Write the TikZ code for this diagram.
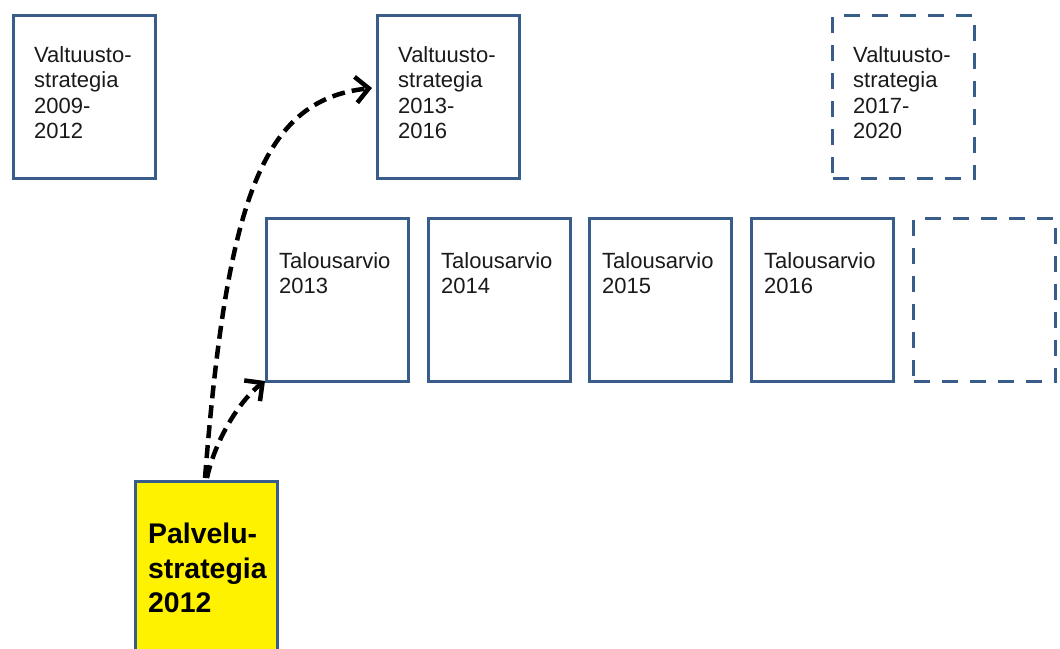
\documentclass[tikz,border=0pt]{standalone}
\usepackage{fontspec}
\setmainfont{Liberation Sans}
\usetikzlibrary{arrows.meta}
\definecolor{boxblue}{HTML}{385D8A}
\definecolor{txt}{HTML}{1A1A1A}
\begin{document}
\begin{tikzpicture}[x=1pt,y=-1pt,
  box/.style={draw=boxblue, line width=3pt, minimum width=142pt, minimum height=163pt, inner sep=0pt, anchor=north west, fill=white},
  dbox/.style={box, dash pattern=on 16pt off 12pt},
  lbl/.style={anchor=north west, inner sep=0pt, align=left, text=txt, font=\fontsize{22}{25.5}\selectfont},
  blbl/.style={anchor=north west, inner sep=0pt, align=left, text=black, font=\fontsize{28.4}{34.5}\selectfont\bfseries},
  conn/.style={line width=4.5pt, dash pattern=on 13pt off 7pt, -{Straight Barb[length=13pt,width=26pt]}}
]
\useasboundingbox[fill=white] (0,0) rectangle (1060,648);
\clip (0,0) rectangle (1060,648);

\node[box] (v1) at (12,14) {};
\node[box] (v2) at (376,14) {};
\node[dbox] (v3) at (831,14) {};

\node[box] (t13) at (265,217) {};
\node[box] (t14) at (427,217) {};
\node[box] (t15) at (588,217) {};
\node[box] (t16) at (750,217) {};
\node[dbox] (t17) at (912,217) {};

\node[box, fill=yellow, minimum height=220pt] (pal) at (134,480) {};

\node[lbl] (v1t) at ([shift={(22,32)}]v1.north west) {Valtuusto-\\strategia\\2009-\\2012};
\node[lbl] (v2t) at ([shift={(22,32)}]v2.north west) {Valtuusto-\\strategia\\2013-\\2016};
\node[lbl] (v3t) at ([shift={(22,32)}]v3.north west) {Valtuusto-\\strategia\\2017-\\2020};

\node[lbl] (t13t) at ([shift={(14,35)}]t13.north west) {Talousarvio\\2013};
\node[lbl] (t14t) at ([shift={(14,35)}]t14.north west) {Talousarvio\\2014};
\node[lbl] (t15t) at ([shift={(14,35)}]t15.north west) {Talousarvio\\2015};
\node[lbl] (t16t) at ([shift={(14,35)}]t16.north west) {Talousarvio\\2016};

\node[blbl] (palt) at ([shift={(14,43)}]pal.north west) {Palvelu-\\strategia\\2012};

\coordinate (s1) at ([shift={(71,-2)}]pal.north west);
\coordinate (e1) at ([shift={(-4,74)}]v2.north west);
\coordinate (e2) at ([shift={(0,-2)}]t13.south west);
\draw[conn] (s1) .. controls (227,200) and (262,100) .. (e1);
\draw[conn] ([xshift=2pt]s1) .. controls (215,440) and (240,400) .. (e2);
\end{tikzpicture}
\end{document}
